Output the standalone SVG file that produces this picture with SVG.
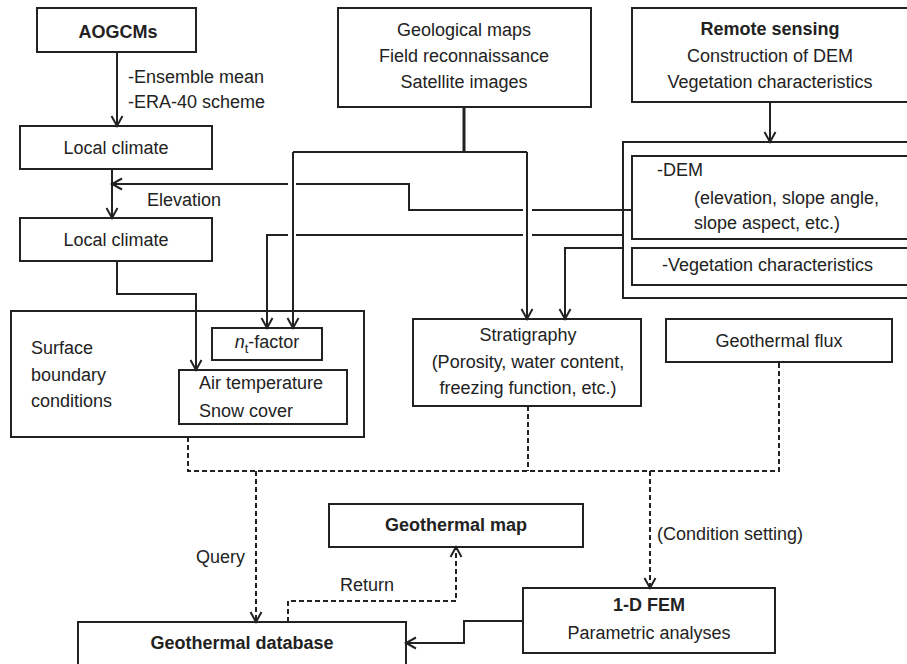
<svg xmlns="http://www.w3.org/2000/svg" width="907" height="664" viewBox="0 0 907 664">
<style>
.box{fill:#fff;stroke:#222;stroke-width:2}
.t{font-family:"Liberation Sans",Arial,sans-serif;font-size:18px;fill:#222}
.b{font-weight:bold}
.m{text-anchor:middle}
.ln{fill:none;stroke:#222;stroke-width:2}
.d{fill:none;stroke:#222;stroke-width:2;stroke-dasharray:5,3}
</style>
<defs>
<marker id="ah" viewBox="-12 -8 14 16" markerWidth="14" markerHeight="16" refX="0" refY="0" orient="auto" markerUnits="userSpaceOnUse" overflow="visible">
<path d="M-10,-5.5 L0,0 L-10,5.5" fill="none" stroke="#222" stroke-width="2"/>
</marker>
</defs>
<rect width="907" height="664" fill="#fff"/>

<g id="aogcms"><rect class="box" x="37" y="8" width="159" height="44"/><text class="t b m" x="118" y="38">AOGCMs</text></g>
<g id="geo-maps"><rect class="box" x="338" y="8" width="253" height="99"/>
<text class="t m" x="464" y="36">Geological maps</text><text class="t m" x="464" y="62">Field reconnaissance</text><text class="t m" x="464" y="88">Satellite images</text></g>
<g id="remote"><rect class="box" x="632" y="8" width="290" height="94"/>
<text class="t b m" x="770" y="35">Remote sensing</text><text class="t m" x="770" y="62">Construction of DEM</text><text class="t m" x="770" y="88">Vegetation characteristics</text></g>
<g id="local1"><rect class="box" x="20" y="126" width="192" height="43"/><text class="t m" x="116" y="154">Local climate</text></g>
<g id="local2"><rect class="box" x="20" y="218" width="192" height="43"/><text class="t m" x="116" y="246">Local climate</text></g>
<g id="rs-outer"><rect class="box" x="623" y="142" width="300" height="156"/></g>
<g id="dem"><rect class="box" x="632" y="156" width="290" height="83"/>
<text class="t" x="657" y="176">-DEM</text><text class="t" x="694" y="204">(elevation, slope angle,</text><text class="t" x="694" y="229">slope aspect, etc.)</text></g>
<g id="veg"><rect class="box" x="632" y="248" width="290" height="37"/><text class="t" x="662" y="271">-Vegetation characteristics</text></g>
<g id="surface"><rect class="box" x="11" y="311" width="353" height="126"/>
<text class="t" x="31" y="354">Surface</text><text class="t" x="31" y="381">boundary</text><text class="t" x="31" y="407">conditions</text></g>
<g id="nt"><rect class="box" x="212" y="328" width="110" height="32"/>
<text class="t m" x="267" y="348"><tspan font-style="italic">n</tspan><tspan font-size="13" dy="5">t</tspan><tspan dy="-5">-factor</tspan></text></g>
<g id="air"><rect class="box" x="179" y="370" width="168" height="54"/>
<text class="t" x="199" y="389">Air temperature</text><text class="t" x="199" y="417">Snow cover</text></g>
<g id="strat"><rect class="box" x="413" y="319" width="228" height="87"/>
<text class="t m" x="528" y="341">Stratigraphy</text><text class="t m" x="528" y="368">(Porosity, water content,</text><text class="t m" x="528" y="394">freezing function, etc.)</text></g>
<g id="flux"><rect class="box" x="666" y="319" width="226" height="43"/><text class="t m" x="779" y="347">Geothermal flux</text></g>
<g id="map"><rect class="box" x="329" y="504" width="254" height="43"/><text class="t b m" x="456" y="531">Geothermal map</text></g>
<g id="database"><rect class="box" x="78" y="622" width="328" height="50"/><text class="t b m" x="242" y="649">Geothermal database</text></g>
<g id="fem"><rect class="box" x="523" y="588" width="252" height="65"/>
<text class="t b m" x="649" y="611">1-D FEM</text><text class="t m" x="649" y="639">Parametric analyses</text></g>

<g id="connectors">
<path class="ln" d="M117,52 V126" marker-end="url(#ah)"/>
<path class="ln" d="M112,169 V218" marker-end="url(#ah)"/>
<path class="ln" d="M770,102 V142" marker-end="url(#ah)"/>
<path class="ln" d="M117,261 V294 H196 V370" marker-end="url(#ah)"/>
<path class="ln" d="M464,107 V152" style="stroke-width:3"/>
<path class="ln" d="M293,152 H527"/>
<path class="ln" d="M293,152 V328" marker-end="url(#ah)"/>
<path class="ln" d="M527,152 V319" marker-end="url(#ah)"/>
<path class="ln" d="M632,210 H532"/>
<path class="ln" d="M523,210 H409 V184 H296"/>
<path class="ln" d="M288,184 H112" marker-end="url(#ah)"/>
<path class="ln" d="M623,235 H532"/>
<path class="ln" d="M523,235 H296"/>
<path class="ln" d="M288,235 H267 V328" marker-end="url(#ah)"/>
<path class="ln" d="M623,248 H565 V319" marker-end="url(#ah)"/>
<path class="d" d="M188,437 V471 H779 V362"/>
<path class="d" d="M528,406 V471"/>
<path class="d" d="M256,471 V622" marker-end="url(#ah)"/>
<path class="d" d="M650,471 V588" marker-end="url(#ah)"/>
<path class="d" d="M288,622 V601 H456 V547" marker-end="url(#ah)"/>
<path class="ln" d="M523,621 H464 V643 H406" marker-end="url(#ah)"/>
<text class="t" x="128" y="83">-Ensemble mean</text>
<text class="t" x="128" y="108">-ERA-40 scheme</text>
<text class="t" x="147" y="206">Elevation</text>
<text class="t" x="196" y="563">Query</text>
<text class="t" x="340" y="591">Return</text>
<text class="t" x="657" y="540">(Condition setting)</text>
</g>
</svg>
